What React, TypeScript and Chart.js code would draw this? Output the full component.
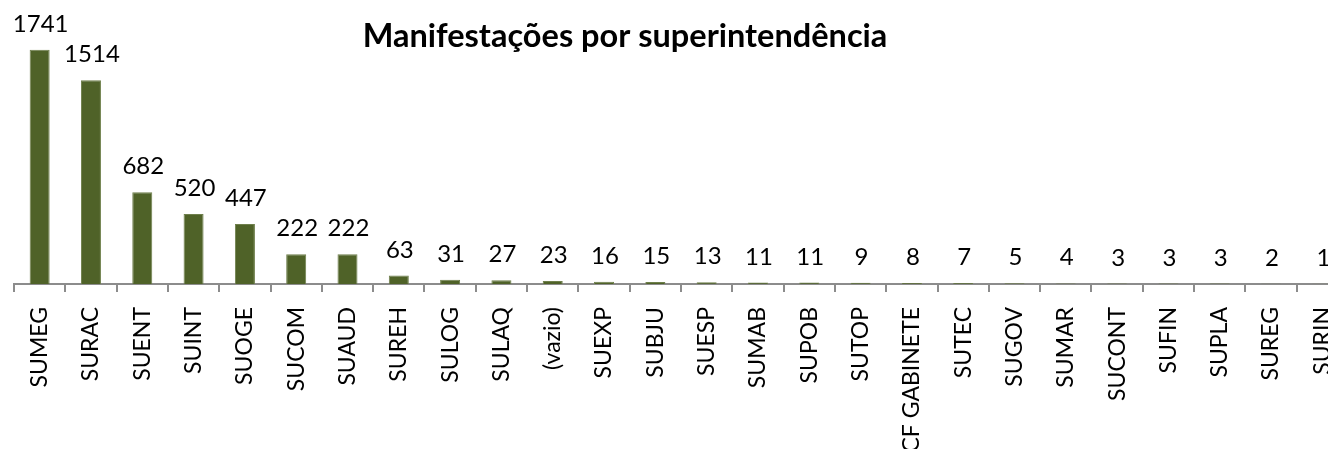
import React, { useEffect, useRef } from "react";
import { Chart, registerables } from "chart.js";

Chart.register(...registerables);

const categories = [
  "SUMEG", "SURAC", "SUENT", "SUINT", "SUOGE", "SUCOM", "SUAUD", "SUREH",
  "SULOG", "SULAQ", "(vazio)", "SUEXP", "SUBJU", "SUESP", "SUMAB", "SUPOB",
  "SUTOP", "CF GABINETE", "SUTEC", "SUGOV", "SUMAR", "SUCONT", "SUFIN",
  "SUPLA", "SUREG", "SURIN",
];
const values = [
  1741, 1514, 682, 520, 447, 222, 222, 63, 31, 27, 23, 16, 15, 13, 11, 11,
  9, 8, 7, 5, 4, 3, 3, 3, 2, 1,
];
const chartTitle = "Manifestações por superintendência";

const FONT = "Lato, 'Open Sans', sans-serif";

const dataLabelPlugin = {
  id: "dataLabels",
  afterDatasetsDraw(chart: any) {
    const ctx = chart.ctx;
    const meta = chart.getDatasetMeta(0);
    ctx.save();
    ctx.font = `24px ${FONT}`;
    ctx.fillStyle = "#000000";
    ctx.textAlign = "center";
    ctx.textBaseline = "alphabetic";
    meta.data.forEach((bar: any, i: number) => {
      ctx.fillText(String(values[i]), bar.x + 1, bar.y - 18);
    });
    ctx.restore();
  },
};

const titlePlugin = {
  id: "customTitle",
  afterDraw(chart: any) {
    const ctx = chart.ctx;
    const area = chart.chartArea;
    ctx.save();
    ctx.font = `bold 32.5px ${FONT}`;
    ctx.fillStyle = "#000000";
    ctx.textAlign = "center";
    ctx.textBaseline = "alphabetic";
    const x = area.left + (area.right - area.left) * 0.458;
    ctx.fillText(chartTitle, x, area.top + 32);
    ctx.restore();
  },
};

export default function App() {
  const ref = useRef<HTMLCanvasElement | null>(null);

  useEffect(() => {
    if (!ref.current) return;
    const chart = new Chart(ref.current, {
      type: "bar",
      data: {
        labels: categories,
        datasets: [
          {
            data: values,
            backgroundColor: "#4F6228",
            borderColor: "#6E7F4B",
            borderWidth: 1,
            categoryPercentage: 1,
            barPercentage: 0.39,
          },
        ],
      },
      options: {
        animation: false,
        responsive: false,
        maintainAspectRatio: false,
        layout: { padding: { top: 15, left: 14, right: 0, bottom: 0 } },
        plugins: {
          legend: { display: false },
          title: { display: false },
          tooltip: { enabled: false },
        },
        scales: {
          y: {
            display: false,
            min: 0,
            max: 2000,
          },
          x: {
            offset: true,
            afterFit: (axis: any) => {
              axis.height = 449 - 284;
              axis.paddingLeft = 0;
              axis.paddingRight = 0;
            },
            border: { display: true, color: "#8C8C8C", width: 2 },
            grid: {
              offset: true,
              drawOnChartArea: false,
              drawTicks: true,
              tickLength: 8,
              color: "#8C8C8C",
              lineWidth: 2,
            },
            ticks: {
              autoSkip: false,
              minRotation: 90,
              maxRotation: 90,
              padding: 15,
              color: "#000000",
              font: { family: FONT, size: 23 },
            },
          },
        },
      },
      plugins: [dataLabelPlugin, titlePlugin],
    });
    return () => chart.destroy();
  }, []);

  return (
    <div
      style={{
        position: "fixed",
        left: 0,
        top: 0,
        width: 1328,
        height: 449,
        overflow: "hidden",
        background: "#ffffff",
      }}
    >
      <canvas
        ref={ref}
        width={1348}
        height={449}
        style={{ display: "block", width: 1348, height: 449 }}
      />
    </div>
  );
}
